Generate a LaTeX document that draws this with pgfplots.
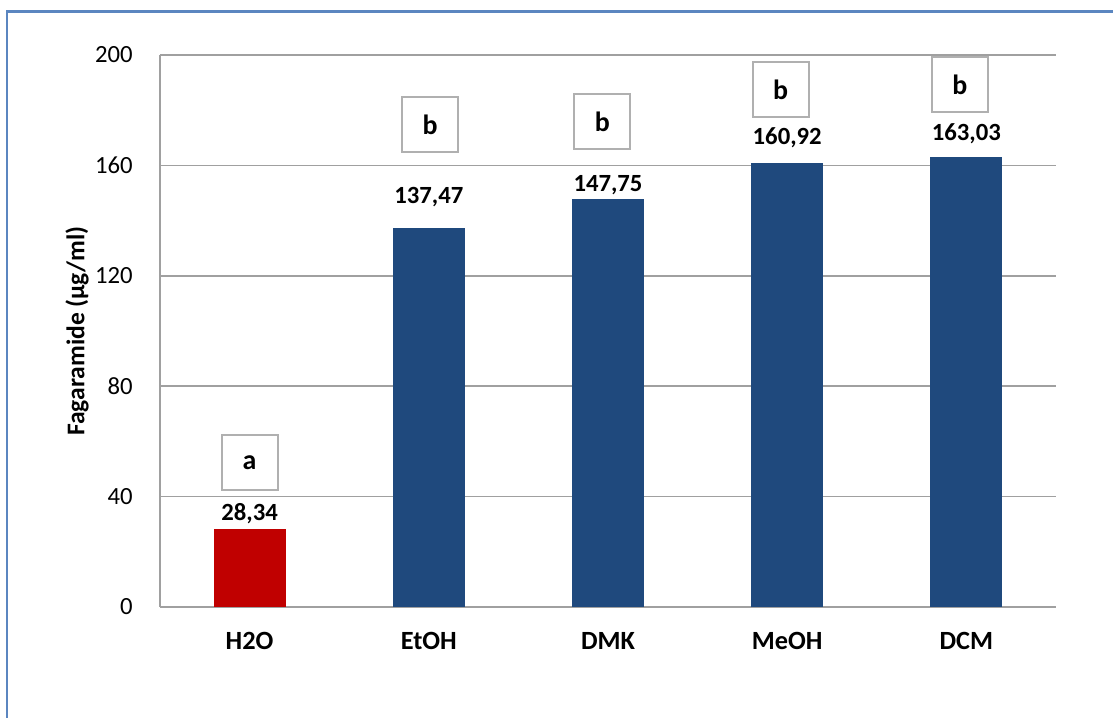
\documentclass[border=0pt]{standalone}
\usepackage{fontspec}
\setmainfont{Carlito}
\usepackage{pgfplots}
\pgfplotsset{compat=1.18}
\definecolor{barblue}{HTML}{1F497D}
\definecolor{barred}{HTML}{C00000}
\definecolor{framecol}{HTML}{5B86C0}
\definecolor{gridgray}{HTML}{A0A0A0}
\definecolor{boxgray}{HTML}{B0B0B0}
\newcommand{\valfmt}{\pgfmathprintnumber[fixed,precision=2,fixed zerofill,use comma]{\pgfplotspointmeta}}
\begin{document}
\begin{tikzpicture}
\path[use as bounding box] (0,0) rectangle (556.5bp,359bp);
\fill[white] (0,0) rectangle (556.5bp,359bp);
\draw[framecol, line width=1.2bp] (3.5bp,0) -- (3.5bp,353.25bp) -- (556.5bp,353.25bp);
\begin{axis}[
  at={(80bp,55.5bp)}, anchor=south west,
  scale only axis, width=448bp, height=276bp,
  xmin=-0.5, xmax=4.5, ymin=0, ymax=200,
  ytick={0,40,...,200},
  xtick={0,1,2,3,4},
  xticklabels={H2O,EtOH,DMK,MeOH,DCM},
  axis x line*=bottom, axis y line*=left,
  x axis line style={-, draw=gridgray, line width=0.8bp},
  y axis line style={-, draw=gridgray, line width=0.8bp},
  major tick length=0pt,
  tick style={draw=none},
  ymajorgrids, grid style={gridgray, line width=0.8bp},
  /pgf/number format/assume math mode=true,
  yticklabel style={font=\fontsize{12.4}{14}\selectfont, anchor=east, inner sep=0pt, xshift=-13.5bp},
  xticklabel style={font=\bfseries\fontsize{13.2}{15}\selectfont, anchor=north, inner sep=0pt, yshift=-12.5bp},
  ylabel={Fagaramide (µg/ml)},
  every axis y label/.style={at={(axis description cs:-0.0926,0.5)}, rotate=90, anchor=center, font=\bfseries\fontsize{12.8}{14}\selectfont},
  ybar, bar width=36bp,
  nodes near coords=\valfmt,
  every node near coord/.append style={font=\bfseries\fontsize{12.4}{14}\selectfont, anchor=base, inner sep=0pt},
  clip=false,
]
\addplot[fill=barred, draw=none, bar shift=0pt, every node near coord/.append style={yshift=4bp}] coordinates {(0,28.34)};
\addplot[fill=barblue, draw=none, bar shift=0pt, every node near coord/.append style={yshift=12bp}] coordinates {(1,137.47)};
\addplot[fill=barblue, draw=none, bar shift=0pt, every node near coord/.append style={yshift=4bp}] coordinates {(2,147.75)};
\addplot[fill=barblue, draw=none, bar shift=0pt, every node near coord/.append style={yshift=9bp}] coordinates {(3,160.92)};
\addplot[fill=barblue, draw=none, bar shift=0pt, every node near coord/.append style={yshift=8.5bp}] coordinates {(4,163.03)};
\tikzset{lbox/.style={draw=boxgray, line width=1bp, fill=white, minimum width=28bp, minimum height=27.5bp, inner sep=0pt, font=\bfseries\fontsize{14}{16}\selectfont}}
\node[lbox] at (axis cs:0,52.4) {a};
\node[lbox] at (axis cs:1.007,174.8) {b};
\node[lbox] at (axis cs:1.969,175.9) {b};
\node[lbox] at (axis cs:2.963,187.5) {b};
\node[lbox] at (axis cs:3.964,189.3) {b};
\end{axis}
\end{tikzpicture}
\end{document}
